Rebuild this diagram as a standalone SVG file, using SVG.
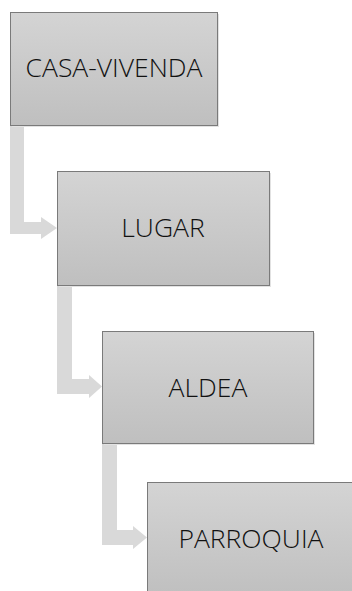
<svg xmlns="http://www.w3.org/2000/svg" width="352" height="591" viewBox="0 0 352 591">
  <defs>
    <linearGradient id="boxfill" x1="0" y1="0" x2="0" y2="1">
      <stop offset="0" stop-color="#d4d4d4"/>
      <stop offset="1" stop-color="#bfbfbf"/>
    </linearGradient>
    <style>
      .box { fill: url(#boxfill); stroke: #7a7a7a; stroke-width: 1; }
      .shadow { fill: #e2e2e2; }
      .lbl { font-family: "Open Sans", "Liberation Sans", sans-serif; font-weight: 300; font-size: 26.5px; fill: #111111; text-anchor: middle; dominant-baseline: central; }
      .conn { fill: #d9d9d9; stroke: none; }
    </style>
  </defs>
  <g id="connectors">
    <path class="conn" d="M10,125 H24 V222 H41 V217 L57,228 L41,239 V234 H10 Z"/>
    <path class="conn" d="M57,285 H72 V379 H89 V375 L102,386.5 L89,398 V394 H57 Z"/>
    <path class="conn" d="M102,443 H117 V530 H133 V526 L147,537.5 L133,549 V545 H102 Z"/>
  </g>
  <g id="node-casa">
    <rect class="shadow" x="12" y="14" width="207" height="113"/>
    <rect class="box" x="10.5" y="12.5" width="207" height="113"/>
    <text class="lbl" x="114" y="67">CASA-VIVENDA</text>
  </g>
  <g id="node-lugar">
    <rect class="shadow" x="59" y="173" width="212" height="114"/>
    <rect class="box" x="57.5" y="171.5" width="212" height="114"/>
    <text class="lbl" x="163" y="227">LUGAR</text>
  </g>
  <g id="node-aldea">
    <rect class="shadow" x="104" y="333" width="211" height="112"/>
    <rect class="box" x="102.5" y="331.5" width="211" height="112"/>
    <text class="lbl" x="208" y="387">ALDEA</text>
  </g>
  <g id="node-parroquia">
    <rect class="box" x="147.5" y="482.5" width="210" height="115"/>
    <text class="lbl" x="251" y="538">PARROQUIA</text>
  </g>
</svg>
